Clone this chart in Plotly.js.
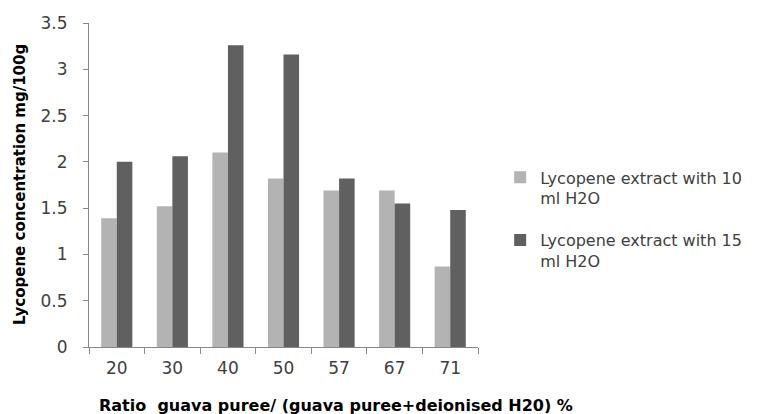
<!DOCTYPE html>
<html><head><meta charset="utf-8">
<script src="https://cdn.plot.ly/plotly-3.0.1.min.js"></script>
<style>body{margin:0;background:#fff}#c{width:760px;height:414px}</style>
</head><body><div id="c"></div>
<script>
const categories = ["20","30","40","50","57","67","71"];
const ext10 = [1.39, 1.52, 2.10, 1.82, 1.69, 1.69, 0.87];
const ext15 = [2.00, 2.06, 3.26, 3.16, 1.82, 1.55, 1.48];
const seriesNames = ["Lycopene extract with 10<br>ml H2O", "Lycopene extract with 15<br>ml H2O"];
const yTicks = [0, 0.5, 1, 1.5, 2, 2.5, 3, 3.5];
const yTickText = ["0","0.5","1","1.5","2","2.5","3","3.5"];
const xTitle = "Ratio\u00a0 guava puree/ (guava puree+deionised H20) %";
const yTitle = "Lycopene concentration mg/100g";

const font = "DejaVu Sans, sans-serif";
const data = [
  {type:"bar", x:categories, y:ext10, name:seriesNames[0], legendgroup:"a", marker:{color:"#b3b3b3"}},
  {type:"bar", x:categories, y:ext15, name:seriesNames[1], legendgroup:"b", marker:{color:"#606060"}}
];
const layout = {
  width:760, height:414,
  margin:{l:89, r:282, t:23, b:67, pad:0},
  paper_bgcolor:"#fff", plot_bgcolor:"#fff",
  barmode:"group", bargap:0.44, bargroupgap:0,
  font:{family:font, color:"#404040", size:15},
  showlegend:true,
  legend:{x:1.057, y:0.576, xanchor:"left", yanchor:"top", valign:"top",
          font:{family:font, size:16, color:"#404040"}, tracegroupgap:18,
          itemwidth:30, bgcolor:"rgba(0,0,0,0)"},
  xaxis:{type:"category", tickson:"boundaries", ticks:"outside", ticklen:6, tickcolor:"#888",
         showline:true, linecolor:"#888", linewidth:1, showgrid:false, zeroline:false,
         ticklabelstandoff:6,
         tickfont:{size:17, color:"#404040"}},
  yaxis:{range:[0,3.5], tickvals:yTicks, ticktext:yTickText, ticks:"outside", ticklen:5, tickcolor:"#888",
         showline:true, linecolor:"#888", linewidth:1, showgrid:false, zeroline:false,
         ticklabelstandoff:12,
         tickfont:{size:17, color:"#404040"}},
  annotations:[
    {text:"<b>"+xTitle+"</b>", xref:"paper", yref:"paper", x:(336-89)/389, y:0, yshift:-58,
     xanchor:"center", yanchor:"middle", showarrow:false, font:{family:font, size:16, color:"#000"}},
    {text:"<b>"+yTitle+"</b>", xref:"paper", yref:"paper", x:(20-89)/389, y:0.5,
     xanchor:"center", yanchor:"middle", textangle:-90, showarrow:false, font:{family:font, size:15, color:"#000"}}
  ]
};
Plotly.newPlot("c", data, layout, {displayModeBar:false, staticPlot:true});
</script></body></html>
